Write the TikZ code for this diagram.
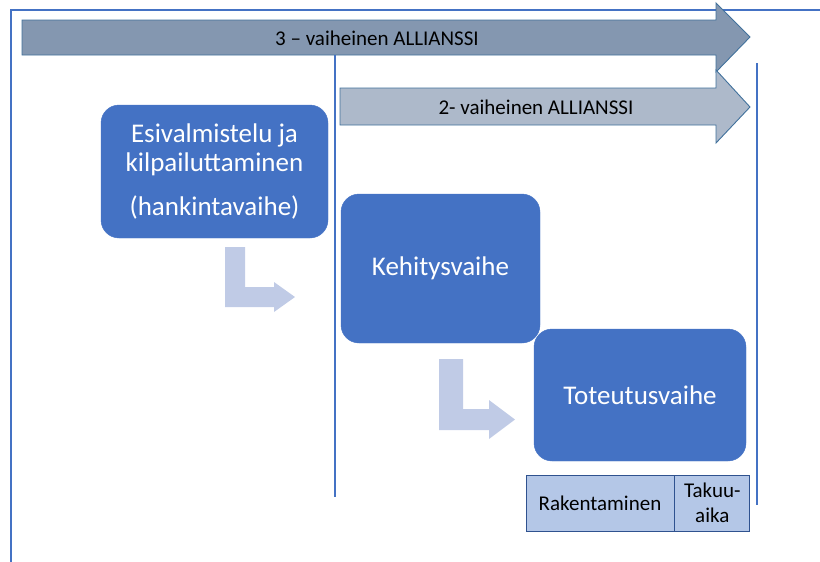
\documentclass[tikz,border=0pt]{standalone}
\usepackage{fontspec}
\setmainfont{Carlito}
\definecolor{acc}{HTML}{4472C4}
\definecolor{bigarr}{HTML}{8497B0}
\definecolor{smallarr}{HTML}{ADB9CA}
\definecolor{arredge}{HTML}{41719C}
\definecolor{lshape}{HTML}{C0CBE6}
\definecolor{cellfill}{HTML}{B4C7E7}
\definecolor{celledge}{HTML}{2F528F}
\tikzset{
  phase/.style={fill=acc, draw=acc, rounded corners=18pt, text=white, font=\fontsize{27}{29}\selectfont, align=center, inner sep=0pt},
  cell/.style={fill=cellfill, draw=celledge, line width=0.8pt, align=center, inner sep=0pt, font=\fontsize{21}{25}\selectfont},
  arrtext/.style={font=\fontsize{21}{24}\selectfont, text=black},
  divline/.style={draw=acc, line width=2.8pt},
}
\begin{document}
\begin{tikzpicture}[x=1pt,y=-1pt]
\useasboundingbox (0,0) rectangle (820,562);
% frame
\draw[acc, line width=1.3pt] (11,562) -- (11,10) -- (820,10);
% big arrow
\draw[fill=bigarr, draw=arredge, line width=0.9pt] (22,20) -- (716,20) -- (716,3) -- (750,37) -- (716,72) -- (716,55) -- (22,55) -- cycle;
\node[arrtext] (a3) at (377,38) {3 – vaiheinen ALLIANSSI};
% small arrow
\draw[fill=smallarr, draw=arredge, line width=0.9pt] (340,88) -- (716,88) -- (716,70) -- (750,107) -- (716,143) -- (716,125) -- (340,125) -- cycle;
\node[arrtext] (a2) at (536,107) {2- vaiheinen ALLIANSSI};
% vertical lines
\coordinate (v1t) at (335,55);
\coordinate (v1b) at (335,497);
\coordinate (v2t) at (757,63);
\coordinate (v2b) at (757,505);
\draw[divline] (v1t) -- (v1b);
\draw[divline] (v2t) -- (v2b);
% phase boxes
\node[phase, minimum width=227pt, minimum height=133pt] (esi) at (214.5,171.5) {\raisebox{-4pt}{\parbox{220pt}{\centering Esivalmistelu ja\\kilpailuttaminen\\[15pt](hankintavaihe)}}};
\node[phase, minimum width=199pt, minimum height=149pt] (keh) at (440.5,268.5) {\raisebox{-1.5pt}{Kehitysvaihe}};
\node[phase, minimum width=212pt, minimum height=132pt] (tot) at (640,395) {Toteutusvaihe};
% L arrows
\fill[lshape] (225,247) -- (245,247) -- (245,287) -- (274,287) -- (274,282) -- (295,297) -- (274,312) -- (274,307) -- (225,307) -- cycle;
\fill[lshape] (439,359) -- (463,359) -- (463,409) -- (489,409) -- (489,400) -- (515,419.5) -- (489,439) -- (489,430) -- (439,430) -- cycle;
% table
\node[cell, minimum width=148pt, minimum height=56pt] (rak) at (600,503) {Rakentaminen};
\node[cell, minimum width=75pt, minimum height=56pt, anchor=west] (tak) at (rak.east) {Takuu-\\aika};
\end{tikzpicture}
\end{document}
